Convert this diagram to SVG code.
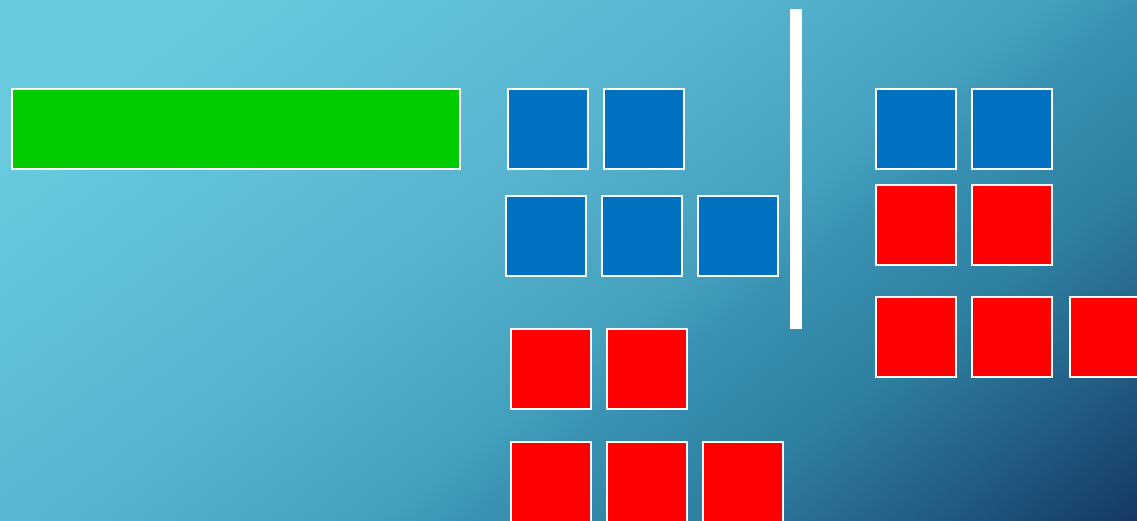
<svg xmlns="http://www.w3.org/2000/svg" width="1137" height="521" viewBox="0 0 1137 521">
<defs>
<linearGradient id="bg" gradientUnits="userSpaceOnUse" x1="0" y1="0" x2="674" y2="876">
<stop offset="0.12" stop-color="#67cbdd"/>
<stop offset="0.41" stop-color="#56b4cf"/>
<stop offset="0.57" stop-color="#45a2bf"/>
<stop offset="0.63" stop-color="#3a93b3"/>
<stop offset="0.76" stop-color="#2e7fa0"/>
<stop offset="0.88" stop-color="#235d85"/>
<stop offset="1" stop-color="#143a63"/>
</linearGradient>
</defs>
<style>
.b{fill:#0070c0;stroke:#ffffff;stroke-width:2}
.r{fill:#ff0000;stroke:#ffffff;stroke-width:2}
.g{fill:#00cc00;stroke:#ffffff;stroke-width:2}
</style>
<rect x="0" y="0" width="1137" height="521" fill="url(#bg)"/>
<g id="green"><rect class="g" x="12" y="89" width="448" height="80"/></g>
<g id="left-blue">
<rect class="b" x="508" y="89" width="80" height="80"/>
<rect class="b" x="604" y="89" width="80" height="80"/>
<rect class="b" x="506" y="196" width="80" height="80"/>
<rect class="b" x="602" y="196" width="80" height="80"/>
<rect class="b" x="698" y="196" width="80" height="80"/>
</g>
<g id="left-red">
<rect class="r" x="511" y="329" width="80" height="80"/>
<rect class="r" x="607" y="329" width="80" height="80"/>
<rect class="r" x="511" y="442" width="80" height="80"/>
<rect class="r" x="607" y="442" width="80" height="80"/>
<rect class="r" x="703" y="442" width="80" height="80"/>
</g>
<g id="divider"><rect x="790" y="9" width="12" height="320" fill="#ffffff"/></g>
<g id="right">
<rect class="b" x="876" y="89" width="80" height="80"/>
<rect class="b" x="972" y="89" width="80" height="80"/>
<rect class="r" x="876" y="185" width="80" height="80"/>
<rect class="r" x="972" y="185" width="80" height="80"/>
<rect class="r" x="876" y="297" width="80" height="80"/>
<rect class="r" x="972" y="297" width="80" height="80"/>
<rect class="r" x="1070" y="297" width="80" height="80"/>
</g>
</svg>
